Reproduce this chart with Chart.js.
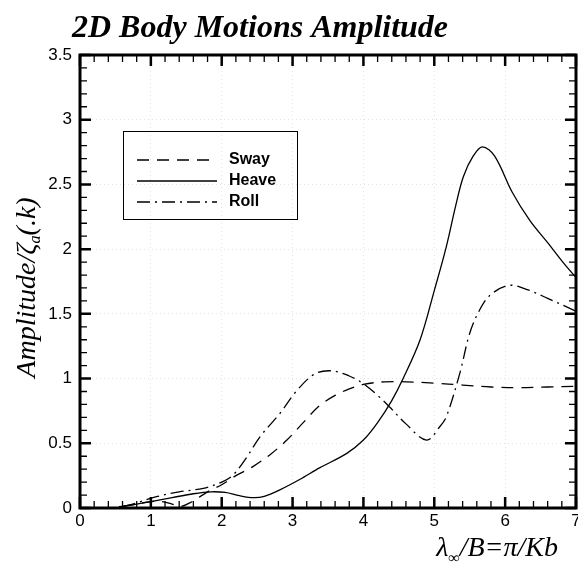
<!DOCTYPE html>
<html>
<head>
<meta charset="utf-8">
<script src="https://cdn.jsdelivr.net/npm/chart.js@4.4.0/dist/chart.umd.min.js"></script>
<style>
  html, body { margin: 0; padding: 0; background: #fff; }
  #wrap { width: 578px; height: 567px; }
</style>
</head>
<body>
<div id="wrap"><canvas id="chart" width="578" height="567"></canvas></div>
<script>
// tick labels
const xTickLabels = ["0", "1", "2", "3", "4", "5", "6", "7"];
const yTickLabels = ["0", "0.5", "1", "1.5", "2", "2.5", "3", "3.5"];

// Sway (dashed)
const swayX = [0.6, 0.8, 1.0, 1.15, 1.3, 1.42, 1.55, 1.7, 1.85, 2.0, 2.2, 2.44, 2.7, 2.92, 3.15, 3.38, 3.6, 3.8, 4.0, 4.3, 4.6, 5.0, 5.4, 5.8, 6.2, 6.6, 7.0];
const swayY = [0.01, 0.03, 0.05, 0.05, 0.03, 0.012, 0.04, 0.09, 0.14, 0.18, 0.25, 0.32, 0.42, 0.525, 0.66, 0.79, 0.87, 0.92, 0.955, 0.975, 0.975, 0.965, 0.95, 0.935, 0.93, 0.935, 0.94];

// Heave (solid)
const heaveX = [0.55, 0.8, 1.0, 1.3, 1.6, 1.85, 2.05, 2.25, 2.45, 2.6, 2.82, 3.1, 3.38, 3.76, 4.0, 4.2, 4.4, 4.56, 4.8, 5.0, 5.17, 5.3, 5.41, 5.55, 5.68, 5.85, 6.1, 6.35, 6.6, 6.8, 7.0];
const heaveY = [0.01, 0.03, 0.05, 0.08, 0.11, 0.125, 0.12, 0.095, 0.08, 0.09, 0.14, 0.22, 0.31, 0.42, 0.525, 0.66, 0.83, 1.0, 1.3, 1.68, 2.02, 2.33, 2.56, 2.72, 2.79, 2.72, 2.44, 2.22, 2.05, 1.91, 1.78];

// Roll (dash-dot)
const rollX = [0.6, 0.8, 1.08, 1.4, 1.74, 2.0, 2.16, 2.35, 2.54, 2.82, 3.05, 3.31, 3.55, 3.8, 4.0, 4.2, 4.37, 4.6, 4.89, 5.08, 5.17, 5.36, 5.5, 5.64, 5.8, 6.06, 6.3, 6.6, 7.0];
const rollY = [0.01, 0.04, 0.087, 0.125, 0.152, 0.2, 0.255, 0.39, 0.55, 0.73, 0.9, 1.035, 1.06, 1.02, 0.96, 0.87, 0.78, 0.65, 0.525, 0.63, 0.705, 1.04, 1.35, 1.53, 1.65, 1.72, 1.69, 1.62, 1.52];

const seriesNames = ["Sway", "Heave", "Roll"];
const seriesDash = [[12, 8], [], [13, 5, 2, 5]];

const toPoints = (xs, ys) => xs.map((x, i) => ({ x: x, y: ys[i] }));

Chart.defaults.font.family = "'Liberation Sans', Arial, sans-serif";
Chart.defaults.color = "#000";

// frame, inward ticks, titles and legend
const decorPlugin = {
  id: "decor",
  afterDraw(chart) {
    const { ctx, chartArea: a, scales: { x, y } } = chart;
    ctx.save();
    ctx.strokeStyle = "#000";
    ctx.lineCap = "butt";

    // x ticks (bottom + top)
    for (let i = 0; i <= 35; i++) {
      const v = i * 0.2;
      const major = i % 5 === 0;
      const px = x.getPixelForValue(v);
      const len = major ? 11 : 7;
      ctx.lineWidth = major ? 2.5 : 1.3;
      ctx.beginPath();
      ctx.moveTo(px, a.bottom); ctx.lineTo(px, a.bottom - len);
      ctx.moveTo(px, a.top); ctx.lineTo(px, a.top + len);
      ctx.stroke();
    }
    // y ticks (left + right)
    for (let i = 0; i <= 35; i++) {
      const v = i * 0.1;
      const major = i % 5 === 0;
      const py = y.getPixelForValue(v);
      const len = major ? 11 : 7;
      ctx.lineWidth = major ? 2.5 : 1.3;
      ctx.beginPath();
      ctx.moveTo(a.left, py); ctx.lineTo(a.left + len, py);
      ctx.moveTo(a.right, py); ctx.lineTo(a.right - len, py);
      ctx.stroke();
    }
    // frame
    ctx.lineWidth = 3;
    ctx.strokeRect(a.left, a.top, a.right - a.left, a.bottom - a.top);

    // title
    ctx.fillStyle = "#000";
    ctx.textBaseline = "alphabetic";
    ctx.textAlign = "left";
    ctx.font = "italic bold 32px 'Liberation Serif', 'Times New Roman', serif";
    ctx.fillText("2D Body Motions Amplitude", 72, 37);

    // x axis title: λ∞/B=π/Kb
    const big = "italic 28px 'Liberation Serif', serif";
    const small = "italic 16px 'Liberation Serif', serif";
    const xParts = [["λ", big, 0], ["∞", small, 7], ["/B=π/Kb", big, 0]];
    let w = 0;
    xParts.forEach(p => { ctx.font = p[1]; w += ctx.measureText(p[0]).width; });
    let cx = 558 - w;
    xParts.forEach(p => {
      ctx.font = p[1];
      ctx.fillText(p[0], cx, 556 + p[2]);
      cx += ctx.measureText(p[0]).width;
    });

    // y axis title: Amplitude/ζa(.k)
    const yParts = [["Amplitude/ζ", big, 0], ["a", small, 5], ["(.k)", big, 0]];
    w = 0;
    yParts.forEach(p => { ctx.font = p[1]; w += ctx.measureText(p[0]).width; });
    ctx.save();
    ctx.translate(35, (a.top + a.bottom) / 2 + w / 2 + 6);
    ctx.rotate(-Math.PI / 2);
    cx = 0;
    yParts.forEach(p => {
      ctx.font = p[1];
      ctx.fillText(p[0], cx, p[2]);
      cx += ctx.measureText(p[0]).width;
    });
    ctx.restore();

    // legend
    ctx.lineWidth = 1;
    ctx.strokeRect(123.5, 131.5, 174, 88);
    ctx.font = "bold 16px 'Liberation Sans', Arial, sans-serif";
    ctx.textBaseline = "middle";
    chart.data.datasets.forEach((ds, i) => {
      const ly = 160 + i * 21;
      ctx.lineWidth = 1.3;
      ctx.setLineDash(ds.borderDash);
      ctx.beginPath();
      ctx.moveTo(137, ly); ctx.lineTo(217, ly);
      ctx.stroke();
      ctx.setLineDash([]);
      ctx.fillText(ds.label, 229, ly);
    });
    ctx.restore();
  }
};

new Chart(document.getElementById("chart"), {
  type: "line",
  data: {
    datasets: [
      { label: seriesNames[0], data: toPoints(swayX, swayY), borderDash: seriesDash[0] },
      { label: seriesNames[1], data: toPoints(heaveX, heaveY), borderDash: seriesDash[1] },
      { label: seriesNames[2], data: toPoints(rollX, rollY), borderDash: seriesDash[2] }
    ].map(d => Object.assign(d, {
      borderColor: "#000",
      borderWidth: 1.3,
      pointRadius: 0,
      fill: false,
      tension: 0.35
    }))
  },
  options: {
    responsive: false,
    animation: false,
    layout: { padding: { left: 0, right: 2, top: 55, bottom: 0 } },
    plugins: { legend: { display: false }, tooltip: { enabled: false } },
    scales: {
      x: {
        type: "linear",
        min: 0, max: 7,
        border: { display: false, dash: [1, 3] },
        grid: { color: "#e4e4e4", drawTicks: false },
        ticks: {
          stepSize: 1, padding: 3, maxRotation: 0,
          font: { size: 17 },
          callback: (v, i) => xTickLabels[i]
        },
        afterFit(scale) { scale.height = 59; scale.paddingLeft = 0; scale.paddingRight = 0; }
      },
      y: {
        type: "linear",
        min: 0, max: 3.5,
        border: { display: false, dash: [1, 3] },
        grid: { color: "#e4e4e4", drawTicks: false },
        ticks: {
          stepSize: 0.5, padding: 8,
          font: { size: 17 },
          callback: (v, i) => yTickLabels[i]
        },
        afterFit(scale) { scale.width = 80; scale.paddingTop = 0; scale.paddingBottom = 0; }
      }
    }
  },
  plugins: [decorPlugin]
});
</script>
</body>
</html>
